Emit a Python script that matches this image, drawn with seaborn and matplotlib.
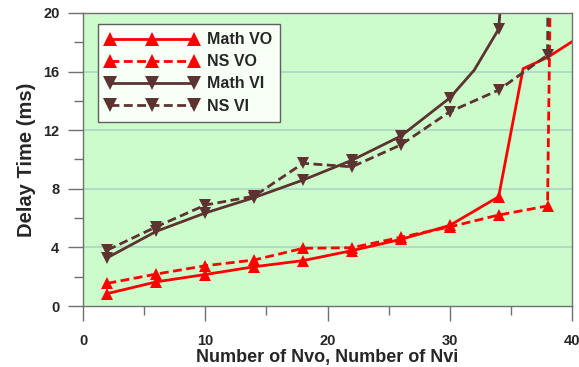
import matplotlib
matplotlib.use("Agg")

import matplotlib.pyplot as plt
import pandas as pd
import seaborn as sns
from matplotlib.lines import Line2D
from matplotlib.ticker import MultipleLocator

# Math VO (solid red, up triangles) - markers at every 4th Nvo from 2..34
math_vo_x = [2, 6, 10, 14, 18, 22, 26, 30, 34, 36, 38, 40]
math_vo_y = [0.85, 1.65, 2.15, 2.68, 3.10, 3.78, 4.55, 5.50, 7.46, 16.2, 16.97, 18.04]
math_vo_marks = [0, 1, 2, 3, 4, 5, 6, 7, 8]

# NS VO (dashed red, up triangles)
ns_vo_x = [2, 6, 10, 14, 18, 22, 26, 30, 34, 38, 38.35]
ns_vo_y = [1.55, 2.18, 2.75, 3.14, 3.94, 3.98, 4.69, 5.40, 6.21, 6.83, 30]
ns_vo_marks = [0, 1, 2, 3, 4, 5, 6, 7, 8, 9]

# Math VI (solid brown, down triangles)
math_vi_x = [2, 6, 10, 14, 18, 22, 26, 28, 30, 32, 34, 34.2]
math_vi_y = [3.30, 5.10, 6.35, 7.40, 8.60, 9.95, 11.6, 12.9, 14.2, 16.1, 18.9, 21.0]
math_vi_marks = [0, 1, 2, 3, 4, 5, 6, 8, 10]

# NS VI (dashed brown, down triangles)
ns_vi_x = [2, 6, 10, 14, 18, 22, 26, 30, 34, 38, 38.1]
ns_vi_y = [3.82, 5.41, 6.89, 7.50, 9.74, 9.50, 11.0, 13.26, 14.74, 17.13, 30]
ns_vi_marks = [0, 1, 2, 3, 4, 5, 6, 7, 8, 9]

RED = "#ff0000"
BROWN = "#5c3330"
BG = "#ccfccc"

sns.set_theme(style="ticks")
plt.rcParams["font.family"] = ["Liberation Sans", "DejaVu Sans"]
plt.rcParams["font.weight"] = "bold"

fig = plt.figure(figsize=(5.79, 3.67), dpi=100)
ax = fig.add_axes([0.1434, 0.1662, 0.8445, 0.7984])
ax.set_facecolor(BG)

series = [
    ("Math VO", math_vo_x, math_vo_y, math_vo_marks, RED, "-", "^"),
    ("NS VO", ns_vo_x, ns_vo_y, ns_vo_marks, RED, "--", "^"),
    ("Math VI", math_vi_x, math_vi_y, math_vi_marks, BROWN, "-", "v"),
    ("NS VI", ns_vi_x, ns_vi_y, ns_vi_marks, BROWN, "--", "v"),
]

handles = []
for name, xs, ys, marks, col, ls, mk in series:
    df = pd.DataFrame({"x": xs, "y": ys})
    dash = (3.2, 1.6) if ls == "--" else None
    kw = dict(dashes=dash) if dash else {}
    sns.lineplot(data=df, x="x", y="y", sort=False, estimator=None, ax=ax,
                 color=col, linewidth=2.0, marker=mk, markersize=9,
                 markeredgewidth=0, markevery=marks, **kw)
    handles.append(Line2D([], [], color=col, linestyle=ls, linewidth=2.0,
                          marker=mk, markersize=10, markeredgewidth=0,
                          dashes=dash if dash else (None, None), label=name))

ax.set_xlim(0, 40)
ax.set_ylim(0, 20)
ax.xaxis.set_major_locator(MultipleLocator(10))
ax.xaxis.set_minor_locator(MultipleLocator(5))
ax.yaxis.set_major_locator(MultipleLocator(4))
ax.yaxis.set_minor_locator(MultipleLocator(2))
ax.grid(False)
for yv in [4, 8, 12, 16]:
    ax.axhline(yv, color="#a9d6c4", linewidth=1.2, zorder=0.5)

ax.tick_params(which="major", length=11, width=1, color="#707070",
               labelsize=10.5)
ax.tick_params(which="minor", length=6.5, width=1, color="#707070")
ax.tick_params(axis="x", which="major", pad=9)
ax.tick_params(axis="y", which="major", pad=6)
for lab in ax.get_xticklabels() + ax.get_yticklabels():
    lab.set_fontweight("bold")

for side in ["left", "bottom", "right", "top"]:
    ax.spines[side].set_color("#707070")
    ax.spines[side].set_linewidth(1.0)

ax.set_xlabel("Number of Nvo, Number of Nvi", fontsize=13, fontweight="bold",
              labelpad=1)
ax.set_ylabel("Delay Time (ms)", fontsize=14.5, fontweight="bold", labelpad=5)

leg = ax.legend(handles=handles, loc="upper left", bbox_to_anchor=(0.03, 0.962),
                borderaxespad=0, numpoints=3, handlelength=5.8, handletextpad=0.55,
                labelspacing=0.45, borderpad=0.5, fancybox=False,
                prop={"size": 11.5, "weight": "bold"})
leg.get_frame().set_edgecolor("#606060")
leg.get_frame().set_facecolor("#f7fff7")
leg.get_frame().set_linewidth(1.0)
leg.get_frame().set_alpha(1)

fig.savefig("out.png", dpi=100)
